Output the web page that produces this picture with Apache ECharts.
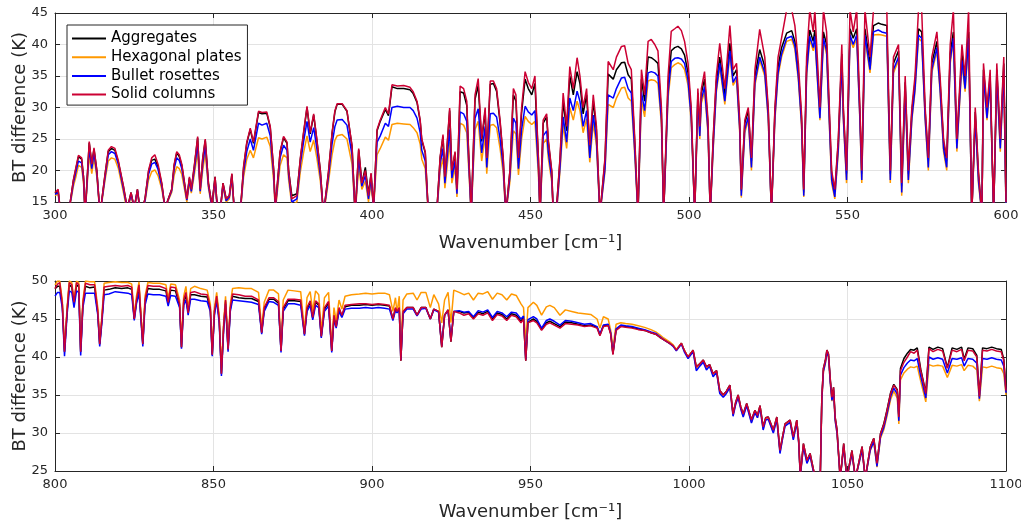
<!DOCTYPE html>
<html><head><meta charset="utf-8">
<script src="https://cdn.jsdelivr.net/npm/echarts@6/dist/echarts.min.js"></script>
<style>html,body{margin:0;padding:0;background:#fff}#c{width:1021px;height:520px}</style>
</head><body><div id="c"></div>
<script>
const seriesNames = ['Aggregates','Hexagonal plates','Bullet rosettes','Solid columns'];
const seriesColors = ['#000000','#FF9900','#0000FF','#CC0033'];

// ---------- Top panel (300-600 cm-1) ----------
const wnTop = [300,301,302,304,304.8,305.8,306.6,307.4,308.4,309,
309.5,310.8,311.6,312.3,313.2,314.2,315.8,316.8,317.8,318.9,
320,321.6,322.8,324,325,326,327,328.4,329.5,330.5,
331.5,332.5,333.7,334.7,336.8,337.6,338.4,339.2,340,341.6,
342.4,343,344,345,345.8,346.6,347.4,348.4,349.5,350.5,
351,352,353,354,355,355.8,356.5,358.4,359.5,360.5,
361.6,362.6,364.2,365.3,366.8,367.9,369,369.5,371,372.1,
373.2,373.7,374.7,376.3,377.4,378.4,379.5,380.5,381.6,382.6,
383.7,384.7,386.3,387.4,388.3,389,390.6,392.1,393.7,394.7,
395.8,396.8,397.9,398.9,399.7,400.5,401.6,402.6,404.2,405.2,
406.3,408,410,412,413,414.2,415.2,415.7,416.8,417.8,
420.5,421.5,422.4,423,424.5,425.2,426.2,426.8,427.8,428.9,
429.9,430.4,431.3,432.5,433.5,434.6,435.7,436.2,437.3,438.3,
439.3,440.4,441.4,442.2,443.5,444.6,445.4,446.2,447.2,448.3,
449.3,450.4,451.4,452.5,453,454,455.1,455.6,456.7,457.2,
458.2,459.3,460.3,461.4,462.4,463.5,464.7,465.6,466.6,467.7,
468.7,469.8,470.8,471.9,473.5,474.5,476.1,477.1,478.7,479.7,
480.8,481.8,482.9,483.9,485,486,487.1,488.1,489.2,490.2,
491.3,492,493.4,494.4,495.5,496.5,497.6,498.6,499.7,500.7,
501.8,502.8,503.4,503.9,504.9,506,506.7,507.6,508.6,509.7,
511.3,512.9,513.9,515,516,516.5,517.6,518.7,519.7,520.8,
522.3,523.9,525,526,527.1,528.1,529.2,530.8,532.4,533.4,
534.5,535.5,536.2,537.1,538.1,539.2,539.7,541.3,542.4,543.4,
545,546,547.1,548.2,548.7,549.7,550.8,551.8,552.9,553.9,
554.5,555.5,557.1,558.2,559.7,560.8,562.4,563.5,564.5,566.1,
567.1,568.2,569.2,570.3,571.3,572.4,573.4,574.5,575.5,576.6,
578.2,579.2,580.3,581.3,582.4,583.4,584.5,586.1,587.1,588.2,
589.2,590.3,591.3,592.4,592.9,594,595,596.1,597.1,598.2,
599.3,600];

const solTop = [16.5,17,12,12,15,18.5,20.5,22.4,22,19,
13,24.6,21,23.6,20,13,19.5,23.2,23.8,23.5,
21.5,17.5,14,16.5,14,17,13,15.5,20,22,
22.5,21,18,14,17,21,23,22.5,21,15.5,
19,17,21,25.4,17,22,25,18,14.5,19,
15.5,13,18,15.5,16,19.5,14,13,20.7,24.5,
26.7,24.5,29.4,29.2,29.3,27,20,14,23,25.4,
24.5,20,15.5,16,22,26,30.2,26,29,25,
20,13,20,26,29.5,30.6,30.6,29.5,24,13,
23.5,18,20,16,19.6,14,26.5,28,30,29,
33.6,33.4,33.5,33.2,32.5,31,28,25,23,13,
14,22.2,25.7,19,29.9,20,23,17,33.4,33,
31,24,13,32,34.6,25,30,22,34.2,34.2,
33,28,22,13,20,33,32,22,30,35.7,
34,33,35,22,13,28,29,25,20,13,
14,22,32.3,27,36.5,33,37.9,35,30,33,
24,32,27,13,22,37.3,36,38,39.7,39.8,
37,36,25,13,36,32,40.5,40.8,40,39,
30,13,35,42.1,42.5,42.9,42.2,40.5,37,30,
13,33,27,33,35.7,28,13,25,35,40.2,
33,43,36,37,28,17,28,30,22,36,
42.4,38,30,13,30,38,41,45.5,45.5,43,
37,29,17,38,45.5,42,45.5,30,45.5,42,
20,17,25,40,30,20,45.5,42,45.5,30,
20,45.5,38,45.5,45.5,45.5,45.5,20,38,40,
18,35,20,30,35,45.5,45.5,30,22,38,
42,35,25,22,40,45.5,25,40,35,45.5,
13,30,20,13,37,30,36,13,37,25,
38,15];

const aggTop = [16.4,16.8,12,12,15,18.4,20.3,22.2,21.8,19,
13,24.4,21,23.4,20,13,19.4,23,23.5,23.2,
21.3,17.4,14,16.5,14,17,13,15.5,19.8,21.6,
21.8,20.6,17.8,14,17,20.8,22.8,22.2,20.8,15.5,
18.8,17,20.8,25.2,17,21.8,24.8,18,14.5,19,
15.5,13,18,15.5,16,19.4,14,13,20.5,24.3,
26.5,24.3,29.2,29,29.1,26.8,20,14,22.9,25.2,
24.3,20,16,16.3,21.8,25.8,30,25.8,28.8,24.8,
20,13,19.8,25.8,29.3,30.5,30.5,29.4,23.8,13,
23.3,18,20.5,16.2,19.4,14,26.3,27.8,29.7,28.7,
33.3,33,33,32.8,32.2,30.8,27.8,24.8,22.8,13,
14,22,25.4,18.9,29.5,19.8,22.8,17,32.5,32.3,
30.3,23.7,13,31.3,33.5,24.6,29.5,21.8,33.7,33.8,
32.6,27.6,21.8,13,19.8,32,31,21.7,29.2,34.5,
33,32,33.8,21.7,13,27.5,28.5,24.6,19.8,13,
14,21.6,31,26.3,35,32,35.7,33.8,29,32,
23.5,31,26.4,13,21.6,35.3,34.5,36,37.1,37.2,
35.2,34.5,24.3,13,34.5,31,38,37.9,37.5,37,
29,13,33.5,39,39.5,39.7,39.3,38.3,35.5,29.3,
13,32.3,26.5,32.3,34.5,27.3,13,24.5,34,38,
32,40.2,35,36,27.3,16.8,27.5,29.5,21.5,35,
39.2,36.5,29.5,13,29.5,36.5,39.5,41.8,42.2,40.5,
35.5,28.3,16.5,36.5,42.3,40.5,42.3,29.3,42,40,
19.5,16.5,24.5,38.5,29.3,19.5,42.5,41,42.5,29.3,
19.5,42.5,37,43,43.4,43.2,43,19.5,37,39,
17.5,34,19.5,29.3,34,42.5,42,29.3,21.5,37,
40.5,34,24.5,21.5,38.5,42,24.5,38.5,34,42,
13,29.3,19.5,13,36,29.3,35,13,36,24.5,
37,14.5];

const bulTop = [16.2,16.5,12,12,14.8,18,19.8,21.5,21.2,18.5,
13,23.5,20.3,22.8,19.5,13,19,22.5,23,22.7,
21,17,13.8,16.2,14,16.8,13,15.2,19.4,21,
21.3,20.2,17.5,14,16.8,20.3,22,21.6,20.3,15.3,
18.5,16.7,20.3,24.2,16.7,21,24,17.6,14.2,18.6,
15.2,13,17.7,15.2,15.8,19,14,13,19.8,23,
25,23.2,27.5,27.2,27.5,25.5,19.2,13.8,22,24,
23.2,19.3,15,15.5,21,24.5,27.8,24.5,26.8,23.5,
19.2,13,19.2,24.2,27,28,28.1,27.2,22.5,13,
22,17.5,19.2,15.5,18.8,14,24.5,25.5,27.5,27,
30,30.2,30,30,29.5,28.3,26,23.2,21.5,13,
13.8,21,23.5,18,26.5,18.8,21.5,16.3,29.3,29,
27.8,22.3,13,28.3,29.8,22.8,27,20.5,29,29.1,
28.5,25,20.5,13,19,28.3,27.5,20.3,26.5,30.2,
29.3,28.8,29.5,20.3,13,25.5,26.3,23,18.8,13,
13.5,20.5,28.5,24.5,31.5,29.5,32.6,31,27,29.5,
22,28.8,24.8,13,20.3,32,31.5,33,34.7,34.8,
33,32.3,23,13,32.5,29.5,35.5,35.7,35.5,35,
28,13,32.3,37.3,37.8,37.9,37.7,37,34.3,28.3,
13,31.3,25.5,31.3,33.3,26.3,13,23.5,32.8,37,
31,39,34,35,26.5,16,26.5,28.5,20.5,34,
38,35.5,28.5,13,28.5,35.5,38.5,41,41.3,39.8,
34.8,27.5,16,35.5,41.3,39.5,41.3,28.3,41,39,
18.5,15.8,23.5,37.5,28.3,18.5,41.5,40,41.5,28.3,
18.5,41.5,36,42,42.3,42,41.8,18.5,36,38,
16.5,33,18.5,28.3,33,41.5,41,28.3,20.5,36,
39.5,33,23.5,20.5,37.5,41,23.5,37.5,33,41,
13,28.3,18.5,13,35,28.3,34,13,35,23.5,
36,14];

const hexTop = [16,16.3,12,12,14.6,17.5,19,20.8,20.5,18,
13,22.5,19.5,22,19,13,18.5,21.5,22,21.8,
20.3,16.5,13.5,16,14,16.5,13,15,18.5,19.8,
20.1,19.2,17,14,16.5,19.3,20.6,20.3,19.4,15,
18,16.4,19.5,23,16.3,20,22.8,17.2,14,18,
15,13,17.3,15,15.5,18.5,14,13,19,21.8,
23.2,22,25.2,25,25.3,23.8,18.3,13.5,20.8,22.5,
22,18.5,14.5,15,19.8,22.8,25.5,23,24.8,22,
18.3,13,18.3,22.5,24.8,25.5,25.7,25,21,13,
20.5,17,18.3,15,18,14,22.5,23.5,25.3,24.8,
27.3,27.5,27.4,27.3,26.8,26,24.2,21.8,20.3,13,
13.5,20,22,17.2,24.5,18,20.5,15.8,27.5,27.2,
26,21.2,13,26.5,27.8,21.5,25.5,19.5,27.2,27.3,
26.8,23.5,19.5,13,18.2,26.3,25.8,19.3,25,28.6,
27.8,27.3,27.8,19.3,13,24.3,25,22,18.2,13,
13.3,19.8,27.2,23.5,30,28,31,29.5,26,28.2,
21.3,27.5,24,13,19.8,30.5,30,31.5,33.1,33.2,
31.5,31,22.3,13,31.2,28.5,34.2,34.4,34.3,33.8,
27.3,13,31.5,36.3,36.8,37.1,36.8,36,33.5,27.8,
13,30.7,25,30.7,32.5,25.8,13,23,32.3,36.5,
30.5,38.5,33.5,34.5,26,15.7,26,28,20,33.5,
37.5,35,28,13,28,35,38,40.5,40.8,39.3,
34.3,27,15.8,35,40.8,39,40.8,28,40.5,38.5,
18,15.5,23,37,28,18,41,39.5,41,28,
18,41,35.5,41.5,41.6,41.5,41.3,18,35.5,37.5,
16,32.5,18,28,32.5,41,40.5,28,20,35.5,
39,32.5,23,20,37,40.5,23,37,32.5,40.5,
13,28,18,13,34.5,28,33.5,13,34.5,23,
35.5,13.8];

// ---------- Bottom panel (800-1100 cm-1) ----------
const wnBot = [800,800.8,801.5,802.3,803,803.8,804.5,805.3,806,806.8,
807.5,808.1,808.8,809.6,811,812.5,813.5,814.1,814.8,815.5,
817,819,821,823,824.2,825,825.7,826.5,827,827.7,
828.4,829.3,831,833,835,835.7,836.5,838,839.3,839.9,
840.6,841.3,842,842.8,844,846,848,849,849.6,850.3,
851,851.8,852.5,853.2,853.8,854.6,855.3,856,858,860,
862,864.2,865.2,866,867.5,869,870.5,871.3,872,873.5,
875.5,877.5,878.7,879.5,880.5,881.3,882.2,883.2,884,885,
886.3,887.3,888,888.7,889.6,890.5,891.5,893.5,896,898,
900,902,904,905.5,906.6,907.4,907.9,908.6,909.1,909.8,
911,913,914.2,915.5,917,918.4,919.5,921,922,922.9,
924,924.9,925.8,927.5,929,930.5,932,933.5,935,936.5,
938,939.5,941,942.5,944,945.5,947,947.8,948.5,949.2,
950.9,952,953.5,955,956.1,957.5,959.3,961,963,965,
967,969,971,971.9,973,974.5,975.3,976,977,978.5,
980,982,984,986,988,989.5,990.8,992,993.9,995,
996,997.6,998.6,999.7,1001.3,1002.3,1003.4,1004.5,1005.5,1006.5,
1007.6,1008.7,1009.7,1010.8,1011.8,1012.9,1013.9,1014.7,1015.5,1016.3,
1017.1,1018.2,1019.7,1020.8,1021.6,1022.4,1023.4,1024.2,1025,1026.6,
1027.7,1028.7,1029.5,1030.3,1031.9,1032.9,1034,1034.6,1035.1,1036.1,
1037.2,1038.2,1039.3,1040.3,1041.4,1041.9,1042.4,1043,1043.5,1044,
1044.6,1045.1,1045.6,1046.1,1046.7,1047.7,1048.8,1049.8,1051.4,1052.5,
1054.6,1055.6,1057.2,1058.3,1059.3,1060.4,1061.5,1062.5,1063.6,1064.6,
1065.7,1066.2,1066.7,1067.8,1068.9,1069.9,1071,1072,1073.1,1074.7,
1075.7,1077,1078.5,1080,1081.5,1083,1084.5,1086,1086.8,1088,
1089.5,1090.8,1091.6,1092.6,1094,1095.5,1097,1098.5,1099.3,1100];

const solBot = [49,49.6,49.8,47,40.7,46,49.8,49.5,47.2,49.8,
49.5,40.7,47,49.7,49.5,49.5,46,41.7,45,49.2,
49.3,49.4,49.3,49.4,49.2,45,47.5,49.5,46,41.7,
47.5,49.4,49.3,49.3,49,47.2,49.2,49.1,47,41.3,
47.5,48.5,45.8,48.5,48.6,48.3,48.2,46.5,40.3,46,
48,45,37.8,44,47.5,41,46.5,48.3,48.2,48,
48,47.5,43.2,46.5,47.8,47.8,47.3,40.8,46.5,47.6,
47.6,47.5,43,46.5,47.4,45.2,47.4,47,42.7,46.5,
47.3,40.8,45.5,44,46.5,45.5,46.8,46.9,47,47,
46.9,47,46.9,46.8,45,46.5,46,46.5,39.5,46,
46.5,46.5,45.5,46.5,46.5,45,46.3,46,41.3,45.5,
46.2,42,46,45.8,45.5,45.7,45,45.7,45.5,45.8,
44.8,45.6,45.4,44.8,45.5,45.3,44.5,45,39.5,44.5,
44.8,44.5,43.5,44.3,44.5,44.2,43.8,44.4,44.3,44.2,
44,44.1,43.8,42.8,44,44.1,43,40.3,43.5,44,
43.9,43.8,43.6,43.5,43.2,43,42.6,42.3,41.8,41.5,
40.9,41.8,40.8,40,40.9,38.7,39.1,39.6,38.7,39,
37.8,38.2,35.6,35,35.5,36.3,32.5,34,35,33.5,
32.5,33.9,31.7,33,32.3,33.6,30.8,32,32.1,30.4,
32.1,27.7,29.5,31.2,31.7,29.5,31.7,29,24.5,28.6,
26.4,27.3,25.1,24,24,34.7,38.5,39.5,40.9,40.4,
36.9,34.7,36,32.1,30.4,24,28.6,24,27.7,24,
28.2,24,28.2,29.3,26,29.9,31.2,33,35.2,36.3,
35.6,32.1,38.2,39.3,40,40.7,40.5,40.9,38.2,35.2,
41.1,40.7,41,40.8,38.5,40.9,40.7,41,39.5,40.9,
40.8,40,34.8,40.9,40.8,41,40.8,40.7,39.5,35.6];

const aggBot = [49,49.3,49.3,47,40.7,46,49.5,49.2,47,49.5,
49.2,40.7,47,49.3,49.1,49.2,45.8,41.7,45,48.8,
48.9,49.1,49,49.1,48.9,45,47.3,49.2,46,41.7,
47.3,49,48.9,48.9,48.7,47,48.8,48.7,46.8,41.3,
47.2,48.2,45.8,48.2,48.2,48,47.9,46.3,40.3,46,
47.8,45,37.8,44,47.3,41,46.3,48,47.8,47.7,
47.7,47.3,43.2,46.3,47.6,47.6,47.1,40.8,46.3,47.4,
47.4,47.3,43,46.3,47.2,45.1,47.2,46.8,42.7,46.3,
47.1,40.8,45.3,44,46.3,45.4,46.6,46.8,46.8,46.9,
46.8,46.9,46.8,46.7,45,46.4,46,46.4,39.5,45.9,
46.5,46.5,45.5,46.5,46.5,45,46.3,46,41.3,45.5,
46.2,42,46,46,45.8,45.9,45.1,45.9,45.7,46,
45,45.8,45.6,45,45.7,45.5,44.7,45.2,39.5,44.6,
45,44.7,43.6,44.5,44.7,44.4,44,44.6,44.5,44.3,
44.1,44.2,43.9,42.9,44.1,44.2,43.1,40.4,43.6,44.1,
44,43.9,43.7,43.5,43.2,43,42.6,42.3,41.8,41.5,
40.9,41.8,40.8,40,40.9,38.7,39.1,39.6,38.7,39,
37.8,38.2,35.6,35,35.5,36.3,32.5,34,35,33.5,
32.5,33.9,31.7,33,32.3,33.6,30.8,32,32.1,30.4,
32.1,27.7,29.5,31.2,31.7,29.5,31.7,29,24.5,28.6,
26.4,27.3,25.1,24,24,34.7,38.5,39.5,40.9,40.4,
36.9,34.7,36,32.1,30.4,24,28.6,24,27.7,24,
28.2,24,28.2,29.3,26,29.9,31.3,33.1,35.3,36.4,
35.7,32.2,38.5,39.8,40.5,41,40.9,41.2,38.4,35.3,
41.3,41,41.3,41.1,38.6,41.2,41,41.3,39.7,41.2,
41.1,40.2,34.8,41.2,41.1,41.3,41.1,41,39.7,35.7];

const bulBot = [48,48.5,48.5,46.5,40.1,45.5,48.7,48.5,46.5,48.7,
48.5,40.2,46.5,48.4,48.4,48.4,45.5,41.4,44.5,48.2,
48.3,48.6,48.5,48.4,48.2,44.8,47,48.4,45.5,41.4,
46.8,48.3,48.2,48.2,48,46.7,48.1,48,46.5,41.1,
46.8,47.5,45.5,47.6,47.6,47.4,47.3,46,40.1,45.5,
47.4,44.5,37.5,43.5,47,40.7,46,47.5,47.4,47.3,
47.2,46.9,43,46,47.3,47.2,46.8,40.6,46,47,
47,46.8,42.8,46,46.8,44.9,46.8,46.5,42.5,46,
46.7,40.6,45,43.8,46,45.2,46.3,46.4,46.4,46.5,
46.4,46.5,46.4,46.3,44.8,46.1,45.8,46.2,39.6,45.7,
46.3,46.3,45.4,46.3,46.4,45,46.2,45.9,41.5,45.5,
46.1,42.2,46,46.1,45.9,46,45.3,46.1,45.9,46.2,
45.2,46,45.8,45.3,45.9,45.8,45,45.4,39.7,44.9,
45.3,45,43.8,44.8,45,44.7,44.2,44.8,44.7,44.5,
44.3,44.4,44,43,44.2,44.3,43.2,40.5,43.7,44.2,
44.1,44,43.8,43.6,43.3,43.1,42.7,42.3,41.8,41.4,
40.8,41.7,40.6,39.8,40.7,38.2,38.8,39.3,38.3,38.8,
37.4,38,35.2,34.7,35.2,36,32.2,33.7,34.7,33.2,
32.1,33.6,31.3,32.7,32,33.3,30.4,31.7,31.8,30,
31.8,27.3,29.2,30.9,31.4,29.1,31.4,28.7,24.3,28.2,
26,27,24.8,24,24,34.3,38.1,39.2,40.6,40.1,
36.5,34.3,35.6,31.7,30,24,28.2,24,27.3,24,
27.8,24,27.8,28.9,25.6,29.5,30.8,32.6,34.8,35.9,
35.1,31.6,37.6,38.6,39.2,39.6,39.5,39.8,37.5,34.6,
40,39.7,39.9,39.7,37.9,39.8,39.7,39.9,38.8,39.8,
39.7,39.2,34.5,39.8,39.7,39.9,39.7,39.6,38.8,35.3];

const hexBot = [49.5,50,50,47.5,41,46.5,50,49.8,47.5,50,
49.8,41,47.5,50,49.9,49.9,46.5,42,45.5,49.7,
49.8,49.9,49.8,49.8,49.6,45.5,48,49.9,46.5,42,
48,49.8,49.7,49.7,49.5,47.7,49.6,49.5,47.5,41.8,
48,49.3,46.3,49,49.3,49,48.8,47,40.8,46.5,
48.5,45.5,38.3,44.5,48,41.5,47,49,49.1,49,
49,48.5,43.8,47.2,48.8,48.8,48.3,41.2,47.5,48.8,
48.7,48.6,43.5,47.8,48.6,46,48.7,48.2,43.3,47.8,
48.5,41.2,46.5,44.8,47.5,46.3,48,48.2,48.3,48.4,
48.3,48.4,48.4,48.2,46,47.8,45.8,48,41,47.5,
48.3,48.4,47.5,48.5,48.5,46.5,48.2,47,44.5,47.5,
48.5,44.5,48.8,48.5,48.2,48.4,47.5,48.4,48.3,48.6,
47.6,48.4,48.2,47.5,48.3,48.1,47,46.5,42,46.5,
47.2,46.8,45.5,46.6,46.8,46.5,45.5,46.2,46,45.8,
45.7,45.6,45,43.8,45.3,45,43.5,41.2,44.3,44.5,
44.4,44.3,44.1,43.9,43.6,43.3,42.9,42.5,42,41.6,
41,41.8,40.8,40,40.8,38.5,39,39.4,38.5,38.8,
37.6,38,35.3,34.8,35.3,36,32.3,33.8,34.8,33.3,
32.2,33.7,31.4,32.8,32,33.4,30.5,31.8,31.9,30.1,
31.9,27.4,29.3,31,31.5,29.2,31.5,28.8,24.3,28.3,
26.1,27,24.8,24,24,34.2,38,39.1,40.5,40,
36.4,34.2,35.5,31.6,29.9,24,28.1,24,27.2,24,
27.7,24,27.7,28.8,25.5,29.3,30.5,32.3,34.4,35.5,
34.6,31.2,37,37.9,38.4,38.7,38.6,38.8,36.8,34.1,
39,38.8,38.9,38.8,37.3,38.9,38.8,39,38.2,38.9,
38.8,38.3,34.2,38.7,38.6,38.8,38.6,38.5,37.8,35];

const topRange = {xmin:300, xmax:600, ymin:15, ymax:45};
const botRange = {xmin:800, xmax:1100, ymin:25, ymax:50};
const xName = 'Wavenumber [cm⁻¹]';
const yName = 'BT difference (K)';

const FONT = 'DejaVu Sans';
const AX = '#262626';

function pairs(xs, ys){ const n=Math.min(xs.length, ys.length); const out=[]; for(let i=0;i<n;i++) out.push([xs[i], ys[i]]); return out; }

function mkX(grid, r, main){
  return {
    type:'value', gridIndex:grid, min:r.xmin, max:r.xmax, interval:50,
    position: main ? 'bottom' : 'top',
    axisLine:{show:true, onZero:false, lineStyle:{color:AX, width:1}},
    axisTick:{show:true, inside:true, length:5, lineStyle:{color:AX}},
    axisLabel:{show:main, color:AX, fontSize:13, fontFamily:FONT, margin:7, formatter:(v)=>String(v)},
    splitLine:{show:main, lineStyle:{color:'#e3e3e3', width:1}},
    name: main ? xName : '', nameLocation:'middle', nameGap:32, nameMoveOverlap:false,
    nameTextStyle:{color:AX, fontSize:18, fontFamily:FONT}
  };
}
function mkY(grid, r, main){
  return {
    type:'value', gridIndex:grid, min:r.ymin, max:r.ymax, interval:5,
    position: main ? 'left' : 'right',
    axisLine:{show:true, onZero:false, lineStyle:{color:AX, width:1}},
    axisTick:{show:true, inside:true, length:5, lineStyle:{color:AX}},
    axisLabel:{show:main, color:AX, fontSize:13, fontFamily:FONT, margin:7, formatter:(v)=>String(v)},
    splitLine:{show:main, lineStyle:{color:'#e3e3e3', width:1}},
    name: main ? yName : '', nameLocation:'middle', nameGap:26, nameMoveOverlap:false,
    nameTextStyle:{color:AX, fontSize:18, fontFamily:FONT}
  };
}

const topSets = [aggTop, hexTop, bulTop, solTop];
const botSets = [aggBot, hexBot, bulBot, solBot];
const series = [];
seriesNames.forEach((nm, i) => {
  series.push({name:nm, type:'line', xAxisIndex:0, yAxisIndex:0, data:pairs(wnTop, topSets[i]),
    symbol:'none', showSymbol:false, clip:true, silent:true, animation:false,
    lineStyle:{color:seriesColors[i], width:1.5}, itemStyle:{color:seriesColors[i]}});
});
seriesNames.forEach((nm, i) => {
  series.push({name:nm, type:'line', xAxisIndex:2, yAxisIndex:2, data:pairs(wnBot, botSets[i]),
    symbol:'none', showSymbol:false, clip:true, silent:true, animation:false,
    lineStyle:{color:seriesColors[i], width:1.5}, itemStyle:{color:seriesColors[i]}});
});

const chart = echarts.init(document.getElementById('c'), null, {renderer:'canvas'});
chart.setOption({
  animation:false,
  backgroundColor:'#ffffff',
  textStyle:{fontFamily:FONT},
  grid:[
    {left:55, top:13, width:951, height:189, containLabel:false, outerBoundsMode:'none'},
    {left:55, top:281, width:951, height:190, containLabel:false, outerBoundsMode:'none'}
  ],
  xAxis:[mkX(0, topRange, true), mkX(0, topRange, false), mkX(1, botRange, true), mkX(1, botRange, false)],
  yAxis:[mkY(0, topRange, true), mkY(0, topRange, false), mkY(1, botRange, true), mkY(1, botRange, false)],
  legend:{
    data:seriesNames, orient:'vertical', left:67, top:25,
    icon:'rect', itemWidth:34, itemHeight:2, itemGap:3.7,
    textStyle:{color:'#000', fontSize:15, fontFamily:FONT},
    padding:[6,6,3,5], borderColor:AX, borderWidth:1, backgroundColor:'#ffffff',
    selectedMode:false, z:10
  },
  series: series
});
</script></body></html>
